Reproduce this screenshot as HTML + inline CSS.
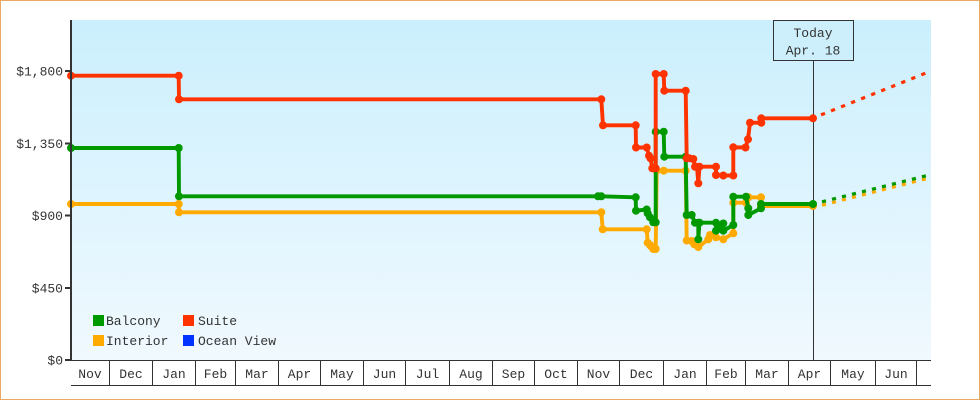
<!DOCTYPE html>
<html>
<head>
<meta charset="utf-8">
<style>
  html,body{margin:0;padding:0;background:#fff;}
  svg{display:block;}
  text{font-family:"Liberation Mono","DejaVu Sans Mono",monospace;font-size:13px;fill:#333;}
</style>
</head>
<body>
<svg width="980" height="400" viewBox="0 0 980 400" xmlns="http://www.w3.org/2000/svg">
  <defs>
    <linearGradient id="bg" x1="0" y1="0" x2="0" y2="1">
      <stop offset="0" stop-color="#cbeffd"/>
      <stop offset="1" stop-color="#f0f9fe"/>
    </linearGradient>
    <marker id="mg" markerWidth="10" markerHeight="10" refX="5" refY="5" markerUnits="userSpaceOnUse">
      <circle cx="5" cy="5" r="4" fill="#009900"/>
    </marker>
    <marker id="mr" markerWidth="10" markerHeight="10" refX="5" refY="5" markerUnits="userSpaceOnUse">
      <circle cx="5" cy="5" r="4" fill="#ff3300"/>
    </marker>
    <marker id="mo" markerWidth="10" markerHeight="10" refX="5" refY="5" markerUnits="userSpaceOnUse">
      <circle cx="5" cy="5" r="4" fill="#ffaa00"/>
    </marker>
  </defs>

  <!-- outer border -->
  <rect x="0.5" y="0.5" width="979" height="399" fill="#fff" stroke="#eaaa66" stroke-width="1"/>

  <!-- plot background -->
  <rect x="71" y="20" width="860" height="340" fill="url(#bg)"/>

  <!-- Today box + line -->
  <line x1="813.5" y1="60" x2="813.5" y2="360" stroke="#333" stroke-width="1"/>
  <rect x="773.5" y="20.5" width="80" height="40" fill="#cdeffc" stroke="#333" stroke-width="1"/>
  <text x="813" y="37" text-anchor="middle">Today</text>
  <text x="813" y="54.5" text-anchor="middle">Apr. 18</text>

  <!-- projections -->
  <g fill="none" stroke-width="3.2">
    <line x1="821" y1="114.9" x2="931" y2="71" stroke="#ff3300" stroke-dasharray="4.3 6.5"/>
    <line x1="822" y1="205.2" x2="931" y2="177.5" stroke="#ffaa00" stroke-dasharray="4.1 6.2"/>
    <line x1="822" y1="201.8" x2="931" y2="174.5" stroke="#009900" stroke-dasharray="4.1 6.2"/>
  </g>

  <!-- Interior -->
  <polyline fill="none" stroke="#ffaa00" stroke-width="3.9" stroke-linejoin="round"
    marker-start="url(#mo)" marker-mid="url(#mo)" marker-end="url(#mo)"
    points="71,204 178.7,204 179,212.3 601.3,212.3 602.7,229.3 646.7,229.3 647.7,242.7 650,245 651.5,246.7 653.3,249 655.7,249 656.7,170.7 663.7,170.7 685.7,170.7 686.7,240.5 691.7,241 694.3,244.3 698.3,247 708.3,239.3 710,235 716,237.3 723.3,239.3 733.3,233.3 733.3,202.7 746,202.7 748.5,197.3 761,197.3 761,206 813,206"/>

  <!-- Balcony -->
  <polyline fill="none" stroke="#009900" stroke-width="3.9" stroke-linejoin="round"
    marker-start="url(#mg)" marker-mid="url(#mg)" marker-end="url(#mg)"
    points="71,148 178.7,148 179,196.3 598,196.3 601.3,196.3 635.7,197.3 636,210.7 646.7,209.5 647.7,213.3 650,217.3 653.3,222.3 655.7,222.3 655.7,131.7 663.7,131.7 664.3,156.7 685.7,156.7 686.7,215 691.7,215 695,222.7 698.3,222.7 698.3,239.3 699.5,222.7 716,222.7 716,230.7 723.3,223.5 723.3,230.7 733.3,225 733.3,196.7 746,196.7 748.3,208.3 748.3,215 761,208.3 761,204 813,204"/>

  <!-- Suite -->
  <polyline fill="none" stroke="#ff3300" stroke-width="3.9" stroke-linejoin="round"
    marker-start="url(#mr)" marker-mid="url(#mr)" marker-end="url(#mr)"
    points="71,75.7 178.7,75.7 179,99.3 601.3,99.3 603,125.3 635.7,125.3 636,147.5 646.7,147.5 649,155.7 650.5,158.3 652.3,168.3 655.7,168.3 655.7,74 663.7,74 664.3,90.7 685.7,90.7 686.7,158.3 689.3,158.3 693.3,159 695,166.7 697,166.7 698.3,183.3 699.5,166.7 716,166.7 716,175 723.3,175.5 733.3,175.5 733.3,147.3 745.5,147.5 748,139.3 750,122.7 761.3,122.7 761.3,118.3 813,118.3"/>

  <!-- Y axis -->
  <line x1="71" y1="20" x2="71" y2="361" stroke="#333" stroke-width="2"/>
  <g stroke="#333" stroke-width="2">
    <line x1="65" y1="71" x2="71" y2="71"/>
    <line x1="65" y1="143.5" x2="71" y2="143.5"/>
    <line x1="65" y1="215.5" x2="71" y2="215.5"/>
    <line x1="65" y1="288" x2="71" y2="288"/>
    <line x1="65" y1="360" x2="71" y2="360"/>
  </g>
  <g text-anchor="end">
    <text x="63" y="75.5">$1,800</text>
    <text x="63" y="148">$1,350</text>
    <text x="63" y="220">$900</text>
    <text x="63" y="292.5">$450</text>
    <text x="63" y="364.5">$0</text>
  </g>

  <!-- X axis -->
  <line x1="71" y1="360.5" x2="931" y2="360.5" stroke="#333" stroke-width="1"/>
  <line x1="71" y1="385.5" x2="931" y2="385.5" stroke="#333" stroke-width="1"/>
  <g stroke="#333" stroke-width="1">
    <line x1="109.5" y1="360" x2="109.5" y2="385"/>
    <line x1="152.5" y1="360" x2="152.5" y2="385"/>
    <line x1="195.5" y1="360" x2="195.5" y2="385"/>
    <line x1="235.5" y1="360" x2="235.5" y2="385"/>
    <line x1="278.5" y1="360" x2="278.5" y2="385"/>
    <line x1="320.5" y1="360" x2="320.5" y2="385"/>
    <line x1="363.5" y1="360" x2="363.5" y2="385"/>
    <line x1="405.5" y1="360" x2="405.5" y2="385"/>
    <line x1="449.5" y1="360" x2="449.5" y2="385"/>
    <line x1="492.5" y1="360" x2="492.5" y2="385"/>
    <line x1="534.5" y1="360" x2="534.5" y2="385"/>
    <line x1="577.5" y1="360" x2="577.5" y2="385"/>
    <line x1="619.5" y1="360" x2="619.5" y2="385"/>
    <line x1="663.5" y1="360" x2="663.5" y2="385"/>
    <line x1="706.5" y1="360" x2="706.5" y2="385"/>
    <line x1="745.5" y1="360" x2="745.5" y2="385"/>
    <line x1="788.5" y1="360" x2="788.5" y2="385"/>
    <line x1="830.5" y1="360" x2="830.5" y2="385"/>
    <line x1="875.5" y1="360" x2="875.5" y2="385"/>
    <line x1="916.5" y1="360" x2="916.5" y2="385"/>
  </g>
  <g text-anchor="middle">
    <text x="90" y="378">Nov</text>
    <text x="131" y="378">Dec</text>
    <text x="174" y="378">Jan</text>
    <text x="215.5" y="378">Feb</text>
    <text x="257" y="378">Mar</text>
    <text x="299.5" y="378">Apr</text>
    <text x="342" y="378">May</text>
    <text x="384.5" y="378">Jun</text>
    <text x="427.5" y="378">Jul</text>
    <text x="471" y="378">Aug</text>
    <text x="513.5" y="378">Sep</text>
    <text x="556" y="378">Oct</text>
    <text x="598.5" y="378">Nov</text>
    <text x="641.5" y="378">Dec</text>
    <text x="685" y="378">Jan</text>
    <text x="726" y="378">Feb</text>
    <text x="767" y="378">Mar</text>
    <text x="809.5" y="378">Apr</text>
    <text x="853" y="378">May</text>
    <text x="896" y="378">Jun</text>
  </g>

  <!-- Legend -->
  <rect x="93" y="315" width="11" height="11" fill="#009900"/>
  <text x="106" y="325">Balcony</text>
  <rect x="183" y="315" width="11" height="11" fill="#ff3300"/>
  <text x="198" y="325">Suite</text>
  <rect x="93" y="335" width="11" height="11" fill="#ffaa00"/>
  <text x="106" y="345">Interior</text>
  <rect x="183" y="335" width="11" height="11" fill="#0033ff"/>
  <text x="198" y="345">Ocean View</text>
</svg>
</body>
</html>
